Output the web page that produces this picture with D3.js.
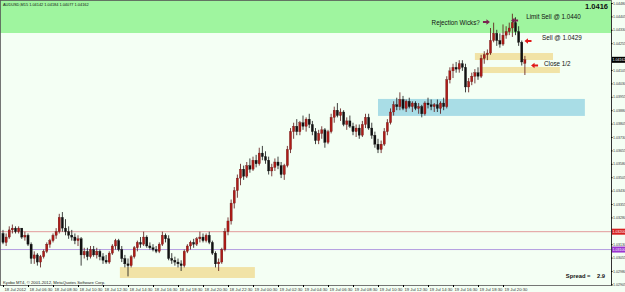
<!DOCTYPE html>
<html>
<head>
<meta charset="utf-8">
<script src="https://cdn.jsdelivr.net/npm/d3@7"></script>
<style>
  body { margin: 0; background: #f4fff4; }
  svg { display: block; font-family: "Liberation Sans", Arial, sans-serif; }
</style>
</head>
<body>
<svg id="chart"></svg>
<script>
// AUDUSD M15, 18 Jul 04:30 -> 19 Jul 22:15 (168 bars)
const openP = [1.0319,1.0314,1.0317,1.0321,1.0322,1.0320,1.0322,1.0317,1.0318,1.0313,1.0305,1.0307,1.0303,1.0306,1.0309,1.0313,1.0315,1.0318,1.0320,1.0328,
  1.0322,1.0320,1.0318,1.0317,1.0315,1.0316,1.0307,1.0309,1.0306,1.0310,1.0307,1.0309,1.0306,1.0304,1.0303,1.0308,1.0312,1.0315,1.0310,1.0305,
  1.0302,1.0301,1.0306,1.0311,1.0314,1.0313,1.0317,1.0312,1.0311,1.0310,1.0309,1.0313,1.0318,1.0316,1.0305,1.0304,1.0303,1.0302,1.0301,1.0309,
  1.0312,1.0314,1.0313,1.0316,1.0317,1.0315,1.0318,1.0314,1.0308,1.0302,1.0303,1.0310,1.0320,1.0326,1.0336,1.0343,1.0350,1.0355,1.0351,1.0357,
  1.0355,1.0360,1.0358,1.0364,1.0362,1.0360,1.0354,1.0356,1.0359,1.0357,1.0352,1.0357,1.0366,1.0376,1.0379,1.0376,1.0381,1.0379,1.0383,1.0380,
  1.0376,1.0371,1.0375,1.0377,1.0370,1.0376,1.0384,1.0388,1.0385,1.0387,1.0380,1.0382,1.0379,1.0376,1.0378,1.0374,1.0380,1.0384,1.0378,1.0374,
  1.0369,1.0366,1.0369,1.0376,1.0381,1.0387,1.0391,1.0390,1.0394,1.0389,1.0393,1.0390,1.0392,1.0389,1.0390,1.0386,1.0392,1.0391,1.0390,1.0391,
  1.0389,1.0392,1.0390,1.0405,1.0410,1.0412,1.0411,1.0414,1.0412,1.0401,1.0404,1.0407,1.0409,1.0407,1.0417,1.0419,1.0420,1.0427,1.0431,1.0427,
  1.0425,1.0430,1.0432,1.0434,1.0437,1.0432,1.0426,1.04142];
const highP = [1.0321,1.0319,1.0323,1.0324,1.0323,1.0323,1.0322,1.0320,1.0319,1.0314,1.0309,1.0308,1.0307,1.0310,1.0314,1.0316,1.0319,1.0322,1.0330,1.0331,
  1.0327,1.0323,1.0321,1.0319,1.0318,1.0317,1.0311,1.0311,1.0312,1.0312,1.0311,1.0310,1.0308,1.0307,1.0309,1.0313,1.0316,1.0316,1.0312,1.0307,
  1.0305,1.0307,1.0312,1.0315,1.0317,1.0320,1.0318,1.0314,1.0313,1.0312,1.0314,1.0320,1.0319,1.0318,1.0308,1.0306,1.0305,1.0304,1.0310,1.0313,
  1.0315,1.0316,1.0317,1.0320,1.0319,1.0319,1.0320,1.0315,1.0309,1.0305,1.0311,1.0322,1.0328,1.0338,1.0345,1.0352,1.0358,1.0357,1.0359,1.0361,
  1.0362,1.0363,1.0367,1.0368,1.0365,1.0362,1.0358,1.0361,1.0362,1.0359,1.0358,1.0368,1.0378,1.0381,1.0383,1.0382,1.0385,1.0384,1.0386,1.0382,
  1.0378,1.0377,1.0379,1.0378,1.0377,1.0386,1.0390,1.0392,1.0389,1.0388,1.0384,1.0385,1.0381,1.0380,1.0380,1.0382,1.0386,1.0386,1.0381,1.0376,
  1.0372,1.0371,1.0378,1.0383,1.0389,1.0393,1.0395,1.0398,1.0396,1.0394,1.0395,1.0393,1.0393,1.0392,1.0391,1.0393,1.0395,1.0394,1.0392,1.0394,
  1.0393,1.0395,1.0407,1.0412,1.0414,1.0415,1.0416,1.0416,1.0414,1.0406,1.0409,1.0411,1.0412,1.0419,1.0421,1.0422,1.0434,1.0437,1.0433,1.0431,
  1.0436,1.0435,1.0437,1.0442,1.0440,1.0435,1.0427,1.04184];
const lowP = [1.0313,1.0312,1.0316,1.0319,1.0319,1.0319,1.0316,1.0315,1.0312,1.0302,1.0302,1.0301,1.0300,1.0305,1.0308,1.0311,1.0314,1.0316,1.0319,1.0320,
  1.0318,1.0316,1.0315,1.0313,1.0312,1.0301,1.0305,1.0304,1.0305,1.0306,1.0305,1.0304,1.0302,1.0302,1.0302,1.0307,1.0310,1.0309,1.0303,1.0300,
  1.0295,1.0300,1.0305,1.0309,1.0311,1.0312,1.0311,1.0310,1.0309,1.0308,1.0308,1.0312,1.0314,1.0304,1.0302,1.0301,1.0300,1.0298,1.0300,1.0308,
  1.0310,1.0311,1.0312,1.0314,1.0314,1.0314,1.0313,1.0307,1.0300,1.0298,1.0302,1.0309,1.0318,1.0324,1.0333,1.0339,1.0346,1.0349,1.0350,1.0353,
  1.0354,1.0356,1.0357,1.0360,1.0358,1.0352,1.0351,1.0354,1.0355,1.0350,1.0349,1.0356,1.0364,1.0372,1.0374,1.0374,1.0377,1.0376,1.0378,1.0374,
  1.0369,1.0369,1.0372,1.0367,1.0369,1.0375,1.0381,1.0384,1.0382,1.0379,1.0377,1.0378,1.0374,1.0373,1.0372,1.0373,1.0378,1.0377,1.0372,1.0367,
  1.0364,1.0364,1.0368,1.0374,1.0380,1.0385,1.0388,1.0388,1.0388,1.0387,1.0389,1.0387,1.0388,1.0386,1.0384,1.0385,1.0389,1.0388,1.0387,1.0387,
  1.0386,1.0388,1.0389,1.0403,1.0406,1.0409,1.0409,1.0410,1.0398,1.0398,1.0402,1.0403,1.0405,1.0406,1.0414,1.0416,1.0419,1.0426,1.0424,1.0423,
  1.0424,1.0428,1.0430,1.0429,1.0430,1.0424,1.0413,1.04077];
const closeP = [1.0314,1.0317,1.0321,1.0322,1.0320,1.0322,1.0317,1.0318,1.0313,1.0305,1.0307,1.0303,1.0306,1.0309,1.0313,1.0315,1.0318,1.0320,1.0328,1.0322,
  1.0320,1.0318,1.0317,1.0315,1.0316,1.0307,1.0309,1.0306,1.0310,1.0307,1.0309,1.0306,1.0304,1.0303,1.0308,1.0312,1.0315,1.0310,1.0305,1.0302,
  1.0301,1.0306,1.0311,1.0314,1.0313,1.0317,1.0312,1.0311,1.0310,1.0309,1.0313,1.0318,1.0316,1.0305,1.0304,1.0303,1.0302,1.0301,1.0309,1.0312,
  1.0314,1.0313,1.0316,1.0317,1.0315,1.0318,1.0314,1.0308,1.0302,1.0303,1.0310,1.0320,1.0326,1.0336,1.0343,1.0350,1.0355,1.0351,1.0357,1.0355,
  1.0360,1.0358,1.0364,1.0362,1.0360,1.0354,1.0356,1.0359,1.0357,1.0352,1.0357,1.0366,1.0376,1.0379,1.0376,1.0381,1.0379,1.0383,1.0380,1.0376,
  1.0371,1.0375,1.0377,1.0370,1.0376,1.0384,1.0388,1.0385,1.0387,1.0380,1.0382,1.0379,1.0376,1.0378,1.0374,1.0380,1.0384,1.0378,1.0374,1.0369,
  1.0366,1.0369,1.0376,1.0381,1.0387,1.0391,1.0390,1.0394,1.0389,1.0393,1.0390,1.0392,1.0389,1.0390,1.0386,1.0392,1.0391,1.0390,1.0391,1.0389,
  1.0392,1.0390,1.0405,1.0410,1.0412,1.0411,1.0414,1.0412,1.0401,1.0404,1.0407,1.0409,1.0407,1.0417,1.0419,1.0420,1.0427,1.0431,1.0427,1.0425,
  1.0430,1.0432,1.0434,1.0437,1.0432,1.0426,1.0415,1.04162];

// axis labels
const priceTicks = [1.04480,1.04405,1.04330,1.04255,1.04105,1.04030,1.03955,1.03880,1.03805,1.03730,1.03655,
  1.03580,1.03505,1.03430,1.03355,1.03280,1.03130,1.03055,1.02980,1.02905];
const timeTickIdx = [0,8,16,24,32,40,48,56,64,72,80,88,96,104,112,120,128,136,144,152,160];
const timeLabels = ["18 Jul 2012","18 Jul 06:30","18 Jul 08:30","18 Jul 10:30","18 Jul 12:30","18 Jul 14:30",
  "18 Jul 16:30","18 Jul 18:30","18 Jul 20:30","18 Jul 22:30","19 Jul 00:30","19 Jul 02:30","19 Jul 04:30",
  "19 Jul 06:30","19 Jul 08:30","19 Jul 10:30","19 Jul 12:30","19 Jul 14:30","19 Jul 16:30","19 Jul 18:30","19 Jul 20:30"];

// zones drawn on the chart (bar index from/to, price top/bottom)
const zoneFrom = [37.4, 151, 153.3, 120];
const zoneTo = [80.6, 176, 178.2, 186.2];
const zoneTop = [1.03002, 1.04200, 1.04122, 1.03943];
const zoneBottom = [1.02941, 1.04161, 1.04088, 1.03848];
const zoneColor = ["#f1e3a6", "#f1e3a6", "#f1e3a6", "#a9dde6"];

const redLevel = 1.0320;
const purpleLevel = 1.0310;
const bid = 1.04162;
const greenFrom = 1.04312;

// text notes and arrows (bar index, price)
const notes = ["Rejection Wicks?", "Limit Sell @ 1.0440", "Sell @ 1.0429", "Close 1/2"];
const noteIdx = [152.6, 167.4, 172.5, 173.1];
const notePrice = [1.04368, 1.04402, 1.04284, 1.04138];
const noteAnchor = ["end", "start", "start", "start"];
const arrowIdx = [154.7, 163.7, 168, 170.1];
const arrowPrice = [1.04374, 1.04382, 1.04267, 1.04130];
const arrowDir = [1, -1, -1, -1];
const arrowColor = ["#7a2350", "#7a2350", "#e01818", "#e01818"];

const width = 625, height = 292;
const plotRight = 611, plotBottom = 285;

const svg = d3.select("#chart").attr("width", width).attr("height", height);

const x = d3.scaleLinear().domain([0, 167]).range([3, 3 + 167 * 3.125]);
const y = d3.scaleLinear().domain([1.02905, 1.04480]).range([284.4, 3]);

svg.append("rect").attr("width", width).attr("height", height).attr("fill", "#f4fff4");

// green area on top
svg.append("rect")
  .attr("x", 0).attr("y", 0)
  .attr("width", plotRight).attr("height", y(greenFrom))
  .attr("fill", "#9ff59f");

// zones
svg.append("g").selectAll("rect")
  .data(zoneFrom)
  .join("rect")
  .attr("x", (d, i) => x(d))
  .attr("width", (d, i) => x(zoneTo[i]) - x(d))
  .attr("y", (d, i) => y(zoneTop[i]))
  .attr("height", (d, i) => y(zoneBottom[i]) - y(zoneTop[i]))
  .attr("fill", (d, i) => zoneColor[i]);

// level lines
svg.append("line").attr("x1", 0).attr("x2", plotRight)
  .attr("y1", y(redLevel)).attr("y2", y(redLevel))
  .attr("stroke", "#e29a9a").attr("stroke-width", 1);
svg.append("line").attr("x1", 0).attr("x2", plotRight)
  .attr("y1", y(purpleLevel)).attr("y2", y(purpleLevel))
  .attr("stroke", "#b39ee0").attr("stroke-width", 1);

// candles
const candles = openP.map((o, i) => ({ i, o, h: highP[i], l: lowP[i], c: closeP[i] }));
const cg = svg.append("g");
cg.selectAll("line")
  .data(candles)
  .join("line")
  .attr("x1", d => x(d.i)).attr("x2", d => x(d.i))
  .attr("y1", d => y(d.h)).attr("y2", d => y(d.l))
  .attr("stroke", d => d.c >= d.o ? "#5a1010" : "#111")
  .attr("stroke-width", 0.8);
cg.selectAll("rect")
  .data(candles)
  .join("rect")
  .attr("x", d => x(d.i) - 1.1)
  .attr("width", 2.2)
  .attr("y", d => y(Math.max(d.o, d.c)))
  .attr("height", d => Math.max(0.8, Math.abs(y(d.o) - y(d.c))))
  .attr("fill", d => d.c >= d.o ? "#ad1c18" : "#111")
  .attr("stroke", d => d.c >= d.o ? "#5a1010" : "#111")
  .attr("stroke-width", 0.3);

// frame
svg.append("rect").attr("x", 0.5).attr("y", 0.5)
  .attr("width", plotRight).attr("height", plotBottom)
  .attr("fill", "none").attr("stroke", "#555").attr("stroke-width", 0.8);

// right axis
const yAxis = svg.append("g")
  .attr("transform", `translate(${plotRight},0)`)
  .call(d3.axisRight(y).tickValues(priceTicks).tickFormat(d3.format(".5f")).tickSize(1.5).tickPadding(0.5));
yAxis.select(".domain").attr("stroke", "#333");
yAxis.selectAll("text").attr("font-size", 3.6).attr("fill", "#333");

// bottom axis
const xAxis = svg.append("g")
  .attr("transform", `translate(0,${plotBottom})`)
  .call(d3.axisBottom(x).tickValues(timeTickIdx).tickFormat((d, i) => timeLabels[i]).tickSize(2).tickPadding(1));
xAxis.select(".domain").remove();
xAxis.selectAll("text").attr("font-size", 4.2).attr("fill", "#333")
  .attr("text-anchor", "start").attr("x", 1);

// price boxes on the axis
const boxes = [[bid, "#000"], [redLevel, "#d62020"], [purpleLevel, "#9b35d0"]];
boxes.forEach(([p, col]) => {
  svg.append("rect").attr("x", plotRight + 1).attr("y", y(p) - 3)
    .attr("width", 13).attr("height", 6).attr("fill", col);
  svg.append("text").attr("x", plotRight + 1.5).attr("y", y(p))
    .attr("dominant-baseline", "middle").attr("font-size", 3.6).attr("fill", "#fff")
    .text(d3.format(".5f")(p));
});

// header and texts
svg.append("text").attr("x", 3).attr("y", 6).attr("font-size", 3.9).attr("fill", "#111")
  .text("AUDUSD,M15  1.04142 1.04184 1.04077 1.04162");
svg.append("text").attr("x", 608).attr("y", 9).attr("text-anchor", "end")
  .attr("font-size", 7.5).attr("font-weight", "bold").attr("fill", "#111")
  .text(d3.format(".4f")(bid));
svg.append("text").attr("x", 605).attr("y", 278).attr("text-anchor", "end")
  .attr("font-size", 5.8).attr("font-weight", "bold").attr("fill", "#111")
  .attr("xml:space", "preserve")
  .text("Spread =    2.9");
svg.append("text").attr("x", 3).attr("y", 283.5).attr("font-size", 4.2).attr("fill", "#222")
  .text("Kyobo MT4, © 2001-2012, MetaQuotes Software Corp.");

// notes
svg.append("g").selectAll("text")
  .data(notes)
  .join("text")
  .attr("x", (d, i) => x(noteIdx[i]))
  .attr("y", (d, i) => y(notePrice[i]))
  .attr("text-anchor", (d, i) => noteAnchor[i])
  .attr("dominant-baseline", "middle")
  .attr("font-size", 6.3)
  .attr("fill", "#111")
  .text(d => d);

// arrows
svg.append("g").selectAll("path")
  .data(arrowIdx)
  .join("path")
  .attr("transform", (d, i) => `translate(${x(d)},${y(arrowPrice[i])}) scale(${arrowDir[i]},1)`)
  .attr("d", "M-3.5,-1 L0,-1 L0,-2.8 L3.5,0 L0,2.8 L0,1 L-3.5,1 Z")
  .attr("fill", (d, i) => arrowColor[i]);
</script>
</body>
</html>
